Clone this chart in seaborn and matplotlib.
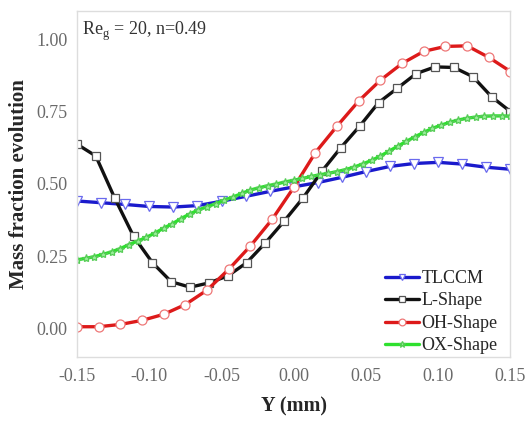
import numpy as np
import pandas as pd
import matplotlib
matplotlib.use("Agg")
import matplotlib.pyplot as plt
import seaborn as sns

# ---- data ----
x_tlccm = [-0.15, -0.1333, -0.1167, -0.10, -0.0833, -0.0667, -0.05, -0.0333, -0.0167, 0.0,
           0.0167, 0.0333, 0.05, 0.0667, 0.0833, 0.10, 0.1167, 0.1333, 0.15]
y_tlccm = [0.441, 0.435, 0.429, 0.422, 0.420, 0.425, 0.440, 0.457, 0.474, 0.490,
           0.505, 0.523, 0.543, 0.561, 0.571, 0.575, 0.569, 0.558, 0.551]

x_lshape = [-0.15, -0.137, -0.124, -0.1109, -0.0978, -0.0848, -0.0717, -0.0587, -0.0457, -0.0326,
            -0.0196, -0.0065, 0.0065, 0.0196, 0.0326, 0.0457, 0.0587, 0.0717, 0.0848, 0.0978,
            0.1109, 0.124, 0.137, 0.15]
y_lshape = [0.638, 0.597, 0.452, 0.319, 0.227, 0.161, 0.142, 0.157, 0.181, 0.227,
            0.296, 0.372, 0.452, 0.545, 0.626, 0.701, 0.782, 0.832, 0.883, 0.906,
            0.904, 0.872, 0.802, 0.751]

x_ohshape = [-0.15, -0.135, -0.12, -0.105, -0.09, -0.075, -0.06, -0.045, -0.03, -0.015,
             0.0, 0.015, 0.03, 0.045, 0.06, 0.075, 0.09, 0.105, 0.12, 0.135, 0.15]
y_ohshape = [0.005, 0.005, 0.013, 0.027, 0.048, 0.082, 0.132, 0.204, 0.285, 0.377,
             0.488, 0.609, 0.701, 0.788, 0.860, 0.918, 0.960, 0.977, 0.979, 0.939, 0.890]

x_oxshape = [-0.150, -0.144, -0.138, -0.132, -0.126, -0.120, -0.114, -0.108, -0.102, -0.096,
             -0.090, -0.084, -0.078, -0.072, -0.066, -0.060, -0.054, -0.048, -0.042, -0.036,
             -0.030, -0.024, -0.018, -0.012, -0.006, 0.000, 0.006, 0.012, 0.018, 0.024,
             0.030, 0.036, 0.042, 0.048, 0.054, 0.060, 0.066, 0.072, 0.078, 0.084,
             0.090, 0.096, 0.102, 0.108, 0.114, 0.120, 0.126, 0.132, 0.138, 0.144, 0.150]
y_oxshape = [0.237, 0.242, 0.248, 0.256, 0.265, 0.276, 0.290, 0.302, 0.315, 0.330,
             0.347, 0.362, 0.380, 0.396, 0.410, 0.421, 0.432, 0.444, 0.455, 0.467,
             0.479, 0.487, 0.494, 0.500, 0.507, 0.513, 0.519, 0.526, 0.532, 0.537,
             0.543, 0.550, 0.559, 0.570, 0.582, 0.597, 0.614, 0.631, 0.648, 0.664,
             0.679, 0.693, 0.704, 0.714, 0.722, 0.728, 0.732, 0.735, 0.736, 0.736, 0.735]

x_ticks = [-0.15, -0.10, -0.05, 0.00, 0.05, 0.10, 0.15]
y_ticks = [0.00, 0.25, 0.50, 0.75, 1.00]
x_label = "Y (mm)"
y_label = "Mass fraction evolution"
annot = r"Re$_\mathregular{g}$ = 20, n=0.49"

# ---- plotting ----
sns.set_style("white")
plt.rcParams["font.family"] = ["Liberation Serif", "DejaVu Serif"]
plt.rcParams["mathtext.fontset"] = "custom"
plt.rcParams["mathtext.rm"] = "Liberation Serif"

fig = plt.figure(figsize=(5.3, 4.21), dpi=100)
ax = fig.add_axes([0.1453, 0.152, 0.8179, 0.822])

series = [
    ("TLCCM", x_tlccm, y_tlccm, "#1a1acc", "v", "#ffffff", "#6a6aee", 6.5),
    ("L-Shape", x_lshape, y_lshape, "#111111", "s", "#ffffff", "#555555", 6),
    ("OH-Shape", x_ohshape, y_ohshape, "#dd1a1a", "o", "#ffffff", "#ee7777", 6.5),
    ("OX-Shape", x_oxshape, y_oxshape, "#2ee02e", "*", "#99ee99", "#55cc55", 6),
]
for name, xs, ys, col, mk, mfc, mec, ms in series:
    df = pd.DataFrame({"x": xs, "y": ys})
    sns.lineplot(data=df, x="x", y="y", ax=ax, color=col, linewidth=2.4,
                 marker=mk, markersize=ms, markerfacecolor=mfc,
                 markeredgecolor=mec, markeredgewidth=0.9, label=name)

ax.set_xlim(-0.15, 0.15)
ax.set_ylim(-0.1, 1.1)
ax.set_xticks(x_ticks)
ax.set_xticklabels([f"{v:.2f}" for v in x_ticks])
ax.set_yticks(y_ticks)
ax.set_yticklabels([f"{v:.2f}" for v in y_ticks])
ax.tick_params(axis="both", direction="in", length=5, width=0.8, color="#cccccc",
               labelsize=13, labelcolor="#6a6a6a")
ax.tick_params(axis="x", pad=8)
ax.tick_params(axis="y", pad=7)
for sp in ax.spines.values():
    sp.set_color("#dddddd")
    sp.set_linewidth(1.0)

ax.set_xlabel(x_label, fontsize=14.5, fontweight="bold", labelpad=8)
ax.set_ylabel(y_label, fontsize=15, fontweight="bold", labelpad=5)

ax.text(0.012, 0.975, annot, transform=ax.transAxes, fontsize=13,
        va="top", ha="left", color="#333333")

leg = ax.legend(loc="lower right", bbox_to_anchor=(0.977, 0.0), frameon=False,
                fontsize=13, handlelength=1.9, handletextpad=0.15, labelspacing=0.3,
                borderaxespad=0.0, borderpad=0.15, markerscale=0.75)

fig.savefig("out.png", dpi=100)
